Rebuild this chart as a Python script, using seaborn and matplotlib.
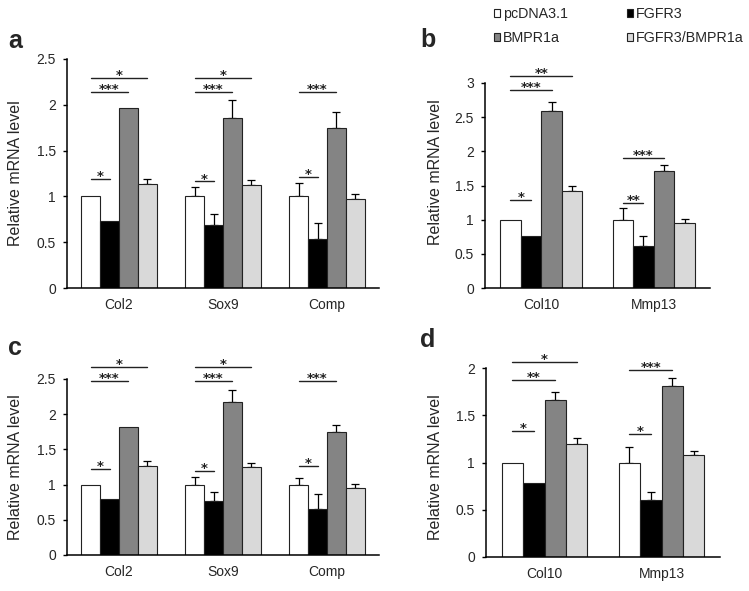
import numpy as np
import pandas as pd
import matplotlib
matplotlib.use("Agg")
import matplotlib.pyplot as plt
import seaborn as sns

# ---------------- data ----------------
groups = ["pcDNA3.1", "FGFR3", "BMPR1a", "FGFR3/BMPR1a"]
colors = ["#ffffff", "#000000", "#848484", "#d9d9d9"]

genes_ac = ["Col2", "Sox9", "Comp"]
genes_bd = ["Col10", "Mmp13"]

# panel a
a_pc = [1.0, 1.0, 1.0];      a_pc_err = [0.0, 0.105, 0.15]
a_fg = [0.727, 0.687, 0.54]; a_fg_err = [0.0, 0.117, 0.165]
a_bm = [1.97, 1.86, 1.75];   a_bm_err = [0.0, 0.19, 0.17]
a_fb = [1.13, 1.12, 0.967];  a_fb_err = [0.055, 0.06, 0.058]
a_sig = [(0, 1, 1.19, "*"), (0, 2, 2.14, "***"), (0, 3, 2.29, "*"),
         (1, 1, 1.163, "*"), (1, 2, 2.145, "***"), (1, 3, 2.29, "*"),
         (2, 1, 1.215, "*"), (2, 2, 2.14, "***")]

# panel b
b_pc = [1.0, 1.0];     b_pc_err = [0.0, 0.17]
b_fg = [0.754, 0.617]; b_fg_err = [0.0, 0.15]
b_bm = [2.59, 1.716];  b_bm_err = [0.13, 0.077]
b_fb = [1.425, 0.958]; b_fb_err = [0.07, 0.05]
b_sig = [(0, 1, 1.29, "*"), (0, 2, 2.90, "***"), (0, 3, 3.106, "**"),
         (1, 1, 1.25, "**"), (1, 2, 1.90, "***")]

# panel c
c_pc = [1.0, 1.0, 1.0];       c_pc_err = [0.0, 0.11, 0.09]
c_fg = [0.797, 0.764, 0.655]; c_fg_err = [0.0, 0.13, 0.21]
c_bm = [1.82, 2.17, 1.75];    c_bm_err = [0.0, 0.175, 0.10]
c_fb = [1.27, 1.248, 0.958];  c_fb_err = [0.06, 0.057, 0.05]
c_sig = [(0, 1, 1.22, "*"), (0, 2, 2.476, "***"), (0, 3, 2.675, "*"),
         (1, 1, 1.20, "*"), (1, 2, 2.476, "***"), (1, 3, 2.67, "*"),
         (2, 1, 1.267, "*"), (2, 2, 2.476, "***")]

# panel d
d_pc = [1.0, 1.0];     d_pc_err = [0.0, 0.16]
d_fg = [0.783, 0.607]; d_fg_err = [0.0, 0.08]
d_bm = [1.658, 1.806]; d_bm_err = [0.085, 0.09]
d_fb = [1.196, 1.076]; d_fb_err = [0.06, 0.045]
d_sig = [(0, 1, 1.33, "*"), (0, 2, 1.87, "**"), (0, 3, 2.06, "*"),
         (1, 1, 1.305, "*"), (1, 2, 1.98, "***")]

a_yticks = [0, 0.5, 1, 1.5, 2, 2.5]
b_yticks = [0, 0.5, 1, 1.5, 2, 2.5, 3]
c_yticks = [0, 0.5, 1, 1.5, 2, 2.5]
d_yticks = [0, 0.5, 1, 1.5, 2]

# ---------------- style ----------------
sns.set_style("white")
plt.rcParams["font.family"] = ["Liberation Sans", "DejaVu Sans"]

fig = plt.figure(figsize=(7.49, 5.91), dpi=100)


def px_axes(left, top, right, bottom):
    return fig.add_axes([left / 749, 1 - bottom / 591, (right - left) / 749, (bottom - top) / 591])


BW = 0.73


def panel(ax, genes, vals, errs, sig, yticks, ylab_xy, legend=False):
    rows = []
    for g, v in zip(groups, vals):
        for gene, val in zip(genes, v):
            rows.append({"gene": gene, "group": g, "value": val})
    df = pd.DataFrame(rows)
    sns.barplot(data=df, x="gene", y="value", hue="group", order=genes, hue_order=groups,
                palette=colors, width=BW, gap=0, edgecolor="#222222", linewidth=0.8,
                errorbar=None, legend=legend, ax=ax, zorder=2)
    n = len(groups)
    bw = BW / n
    for j, (v, e) in enumerate(zip(vals, errs)):
        xs = np.arange(len(genes)) + (j - (n - 1) / 2) * bw
        v = np.asarray(v); e = np.asarray(e)
        m = e > 0
        if m.any():
            ax.errorbar(xs[m], v[m], yerr=[np.zeros(m.sum()), e[m]], fmt="none",
                        ecolor="black", elinewidth=0.9, capsize=2.6, capthick=0.9, zorder=1)
    for (gi, tj, y, lab) in sig:
        x0 = gi + (0 - (n - 1) / 2) * bw
        x1 = gi + (tj - (n - 1) / 2) * bw
        ax.plot([x0, x1], [y, y], color="#222222", lw=1.0, clip_on=False, zorder=3)
        ax.annotate(lab, xy=((x0 + x1) / 2, y), xytext=(0, -0.8), textcoords="offset points",
                    ha="center", va="baseline", fontsize=9.5, fontweight="bold",
                    family="DejaVu Sans", color="#222222", annotation_clip=False)
    ax.set_xlim(-0.5, len(genes) - 0.5)
    ax.set_ylim(0, yticks[-1])
    ax.set_yticks(yticks)
    ax.set_yticklabels([("%g" % t) for t in yticks])
    ax.set_xlabel("")
    ax.set_ylabel("Relative mRNA level", fontsize=11.5)
    ax.yaxis.set_label_coords(*ylab_xy)
    for s in ["top", "right"]:
        ax.spines[s].set_visible(False)
    for s in ["left", "bottom"]:
        ax.spines[s].set_color("black")
        ax.spines[s].set_linewidth(1.1)
    ax.tick_params(axis="y", direction="out", length=3, width=1, color="black",
                   labelsize=10, pad=5, left=True)
    ax.tick_params(axis="x", length=0, labelsize=10, pad=7)
    ax.grid(False)


ax_a = px_axes(67, 59, 379, 288)
panel(ax_a, genes_ac, [a_pc, a_fg, a_bm, a_fb], [a_pc_err, a_fg_err, a_bm_err, a_fb_err],
      a_sig, a_yticks, (-0.141, 0.5))

ax_b = px_axes(485, 83, 710, 288)
panel(ax_b, genes_bd, [b_pc, b_fg, b_bm, b_fb], [b_pc_err, b_fg_err, b_bm_err, b_fb_err],
      b_sig, b_yticks, (-0.187, 0.566), legend=True)

ax_c = px_axes(67, 379, 379, 555)
panel(ax_c, genes_ac, [c_pc, c_fg, c_bm, c_fb], [c_pc_err, c_fg_err, c_bm_err, c_fb_err],
      c_sig, c_yticks, (-0.141, 0.5))

ax_d = px_axes(486, 368, 720, 557)
panel(ax_d, genes_bd, [d_pc, d_fg, d_bm, d_fb], [d_pc_err, d_fg_err, d_bm_err, d_fb_err],
      d_sig, d_yticks, (-0.184, 0.476))

# legend (from seaborn handles)
handles, labels = ax_b.get_legend_handles_labels()
if ax_b.get_legend() is not None:
    ax_b.get_legend().remove()
order = [0, 2, 1, 3]
fig.legend([handles[i] for i in order], [labels[i] for i in order], ncol=2,
           loc="upper left", bbox_to_anchor=(494 / 749, 1 - 7 / 591),
           frameon=False, fontsize=10.3, borderpad=0, borderaxespad=0,
           handlelength=0.45, handleheight=0.45, handletextpad=0.2,
           columnspacing=4.1, labelspacing=0.7)

# panel letters
for lab, x, y in [("a", 8, 48), ("b", 420, 47), ("c", 8, 355), ("d", 420, 347)]:
    fig.text(x / 749, 1 - y / 591, lab, fontsize=18, fontweight="bold", va="baseline", ha="left")

fig.savefig("out.png", dpi=100)
